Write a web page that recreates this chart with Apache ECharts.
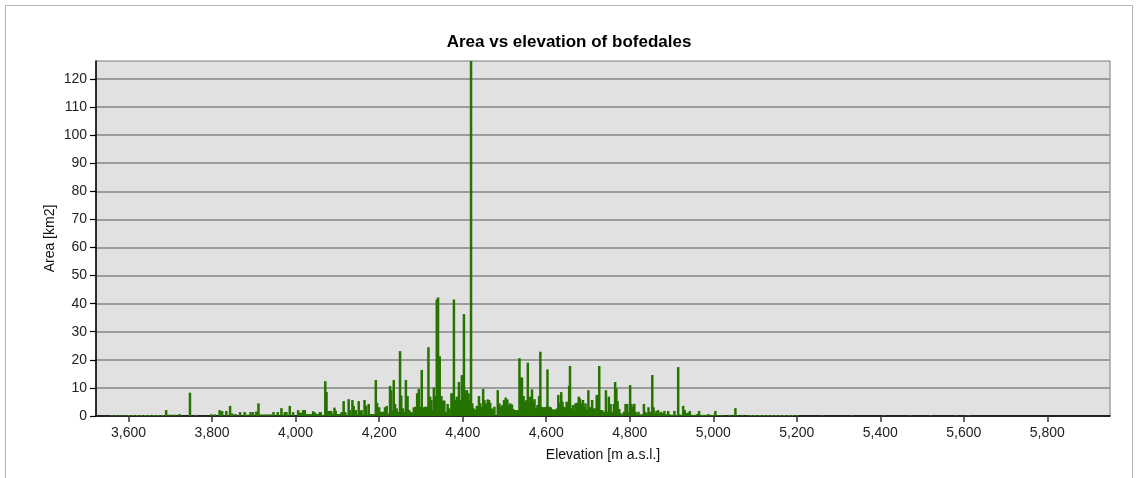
<!DOCTYPE html>
<html>
<head>
<meta charset="utf-8">
<script src="https://cdn.jsdelivr.net/npm/echarts@6/dist/echarts.min.js"></script>
<style>
  html, body { margin: 0; padding: 0; background: #ffffff; }
  #chart { width: 1138px; height: 478px; }
</style>
</head>
<body>
<div id="chart"></div>
<script>
// Bofedal areas (km2) by elevation (m a.s.l.)
const elevations = [
  3690, 3699, 3710, 3722, 3747, 3762, 3798, 3806, 3818, 3824, 3834, 3843, 3848, 3856, 3867, 3878, 3884, 3892, 3898, 3906,
  3911, 3918, 3926, 3933, 3940, 3947, 3957, 3966, 3974, 3978, 3986, 3994, 4006, 4010, 4014, 4018, 4022, 4026, 4031, 4036,
  4042, 4046, 4050, 4054, 4058, 4060, 4064, 4067, 4071, 4074, 4077, 4081, 4085, 4088, 4093, 4096, 4099, 4103, 4106, 4110,
  4115, 4119, 4127, 4130, 4136, 4139, 4144, 4151, 4154, 4158, 4165, 4169, 4175, 4178, 4182, 4186, 4192, 4195, 4200, 4205,
  4209, 4214, 4218, 4222, 4226, 4229, 4232, 4235, 4238, 4242, 4246, 4250, 4253, 4257, 4260, 4264, 4268, 4272, 4276, 4279,
  4283, 4287, 4291, 4295, 4299, 4302, 4306, 4310, 4314, 4318, 4322, 4325, 4329, 4331, 4334, 4338, 4341, 4345, 4349, 4352,
  4356, 4360, 4364, 4368, 4373, 4376, 4379, 4382, 4386, 4391, 4394, 4398, 4400, 4403, 4406, 4410, 4414, 4417, 4420, 4423,
  4427, 4430, 4434, 4439, 4442, 4446, 4449, 4452, 4456, 4460, 4463, 4466, 4470, 4473, 4476, 4484, 4488, 4491, 4495, 4499,
  4503, 4507, 4511, 4514, 4518, 4522, 4525, 4529, 4533, 4536, 4539, 4542, 4546, 4550, 4553, 4556, 4559, 4562, 4566, 4569,
  4572, 4576, 4579, 4583, 4586, 4589, 4593, 4596, 4600, 4603, 4607, 4611, 4615, 4619, 4622, 4626, 4629, 4632, 4636, 4639,
  4643, 4646, 4649, 4652, 4655, 4657, 4660, 4664, 4667, 4670, 4674, 4678, 4681, 4684, 4688, 4691, 4694, 4698, 4701, 4704,
  4708, 4710, 4714, 4718, 4721, 4724, 4727, 4730, 4734, 4738, 4743, 4747, 4750, 4754, 4758, 4762, 4765, 4768, 4771, 4775,
  4778, 4782, 4786, 4790, 4794, 4798, 4801, 4804, 4807, 4811, 4814, 4818, 4821, 4826, 4830, 4834, 4837, 4842, 4845, 4849,
  4854, 4857, 4861, 4864, 4868, 4872, 4875, 4879, 4883, 4887, 4892, 4896, 4900, 4904, 4907, 4911, 4916, 4919, 4923, 4928,
  4932, 4936, 4940, 4944, 4948, 4952, 4957, 4962, 4966, 4970, 4976, 4982, 4988, 4993, 5000, 5005, 5009, 5015, 5021, 5027,
  5038, 5043, 5053, 5058, 5070, 5082
];
const areas = [
  2.1, 0.5, 0.5, 0.7, 8.3, 0.4, 0.6, 0.6, 2.1, 1.8, 1.8, 3.6, 0.9, 0.7, 1.4, 1.4, 0.5, 1.4, 1.4, 1.6,
  4.5, 0.6, 0.6, 0.6, 0.6, 1.4, 1.4, 2.8, 1.4, 1.4, 3.6, 1.4, 2.1, 1.2, 1.2, 2.1, 2.1, 0.7, 0.7, 0.7,
  1.7, 1.3, 0.7, 0.7, 1.4, 1.4, 0.4, 0.4, 12.4, 8.5, 1.8, 1.8, 1.8, 0.9, 3.0, 1.9, 0.7, 0.7, 0.7, 1.4,
  5.3, 1.4, 6.0, 2.1, 5.7, 3.6, 2.1, 5.3, 1.8, 2.1, 5.7, 3.7, 4.3, 0.7, 0.7, 0.7, 12.8, 4.7, 3.1, 1.5,
  1.5, 3.1, 3.6, 0.9, 10.7, 9.2, 1.9, 12.8, 4.3, 2.7, 1.5, 23.1, 7.3, 2.7, 1.5, 12.8, 7.1, 2.1, 1.4, 1.2,
  3.1, 3.3, 8.1, 9.6, 3.3, 16.4, 3.1, 3.3, 3.3, 24.5, 6.9, 5.7, 2.1, 10.1, 7.1, 41.5, 42.2, 21.3, 7.1, 5.5,
  5.5, 1.5, 4.3, 2.7, 8.1, 8.1, 41.5, 5.7, 6.9, 12.1, 5.7, 14.5, 14.6, 36.3, 9.2, 9.2, 8.1, 5.7, 126.4, 4.5,
  2.7, 2.1, 3.6, 7.1, 4.5, 3.3, 9.6, 5.7, 4.5, 5.9, 5.7, 4.7, 2.7, 1.9, 3.3, 9.2, 4.5, 3.3, 3.9, 5.7,
  6.6, 5.9, 3.9, 4.5, 4.1, 2.4, 2.1, 2.1, 2.1, 20.6, 13.7, 13.7, 7.1, 5.1, 5.7, 19.0, 4.5, 6.9, 9.5, 5.1,
  6.0, 2.7, 3.9, 7.1, 22.9, 3.3, 3.1, 3.1, 3.3, 16.6, 3.3, 3.1, 2.4, 2.1, 2.4, 2.7, 7.5, 4.7, 8.5, 5.1,
  3.3, 2.7, 5.1, 4.5, 10.7, 17.8, 2.7, 3.9, 2.1, 4.5, 4.7, 6.9, 6.2, 4.5, 5.7, 3.3, 4.5, 2.4, 9.2, 3.1,
  3.1, 5.7, 2.7, 2.7, 7.5, 7.5, 17.8, 2.1, 2.1, 1.5, 9.2, 1.5, 6.9, 4.3, 1.5, 4.3, 12.1, 9.8, 5.3, 2.5,
  1.0, 0.6, 1.5, 4.3, 4.3, 1.5, 11.0, 4.3, 3.3, 4.3, 1.5, 0.6, 1.5, 0.6, 0.6, 4.3, 1.5, 1.0, 3.1, 1.5,
  14.6, 3.1, 1.0, 1.8, 2.1, 1.0, 1.5, 1.0, 1.8, 0.6, 1.8, 0.6, 0.4, 0.4, 1.8, 0.4, 17.4, 0.6, 0.4, 3.6,
  2.1, 1.0, 1.2, 1.8, 0.4, 0.4, 0.4, 0.7, 1.8, 0.4, 0.4, 0.4, 0.7, 0.4, 0.4, 1.8, 0.3, 0.3, 0.3, 0.2,
  0.4, 0.2, 2.8, 0.2, 0.4, 0.3
];

// Very small wetlands that show up only as a trace along the baseline
const traceElevations = [
  3560, 3570, 3580, 3590, 3600, 3610, 3620, 3630, 3640, 3650, 3660, 3670, 3680,
  5090, 5100, 5110, 5120, 5130, 5140, 5150, 5160, 5170, 5180, 5190, 5200,
  5260, 5330, 5410, 5470, 5520, 5580, 5610
];
const traceAreas = [
  0.2, 0.2, 0.2, 0.2, 0.3, 0.3, 0.3, 0.3, 0.3, 0.3, 0.3, 0.3, 0.3,
  0.3, 0.3, 0.3, 0.3, 0.3, 0.3, 0.3, 0.3, 0.3, 0.3, 0.3, 0.2,
  0.15, 0.15, 0.15, 0.15, 0.15, 0.15, 0.15
];

const xTickValues = [3600, 3800, 4000, 4200, 4400, 4600, 4800, 5000, 5200, 5400, 5600, 5800];
const yTickValues = [0, 10, 20, 30, 40, 50, 60, 70, 80, 90, 100, 110, 120];

const xMin = 3522;
const xMax = 5950;
const yMax = 126.4;

const barColor = '#267300';
const fontFamily = '"Liberation Sans", Arial, sans-serif';

function thousands(v) {
  return String(v).replace(/\B(?=(\d{3})+(?!\d))/g, ',');
}

const mainData = elevations.map((e, i) => [e, areas[i]]);
const traceData = traceElevations.map((e, i) => [e, traceAreas[i]]);

const chart = echarts.init(document.getElementById('chart'), null, { renderer: 'canvas' });

chart.setOption({
  animation: false,
  backgroundColor: '#ffffff',
  title: {
    text: 'Area vs elevation of bofedales',
    left: 'center',
    top: 29,
    textStyle: { fontFamily, fontSize: 17, fontWeight: 'bold', color: '#000' }
  },
  grid: {
    left: 96,
    right: 28,
    top: 61,
    bottom: 62,
    show: true,
    backgroundColor: '#e1e1e1',
    borderColor: '#7a7a7a',
    borderWidth: 1
  },
  xAxis: {
    type: 'value',
    min: xMin,
    max: xMax,
    name: 'Elevation [m a.s.l.]',
    nameLocation: 'middle',
    nameGap: 32,
    nameMoveOverlap: false,
    nameTextStyle: { fontFamily, fontSize: 14, color: '#111' },
    axisLine: { show: true, onZero: false, lineStyle: { color: '#000', width: 1.5 } },
    axisTick: { show: true, length: 6, customValues: xTickValues, lineStyle: { color: '#333', width: 1.5 } },
    axisLabel: {
      customValues: xTickValues,
      margin: 10,
      fontFamily, fontSize: 14, color: '#222',
      formatter: v => thousands(v)
    },
    splitLine: { show: false }
  },
  yAxis: {
    type: 'value',
    min: 0,
    max: yMax,
    interval: 10,
    name: 'Area [km2]',
    nameLocation: 'middle',
    nameGap: 39,
    nameMoveOverlap: false,
    nameTextStyle: { fontFamily, fontSize: 14, color: '#111' },
    axisLine: { show: true, lineStyle: { color: '#000', width: 1.5 } },
    axisTick: { show: true, length: 6, customValues: yTickValues, lineStyle: { color: '#000', width: 1.2 } },
    axisLabel: {
      customValues: yTickValues,
      margin: 9,
      fontFamily, fontSize: 14, color: '#222'
    },
    splitLine: { show: true, lineStyle: { color: '#858585', width: 1.5 } }
  },
  series: [
    {
      name: 'trace',
      type: 'bar',
      data: traceData,
      barWidth: 3,
      barGap: '-100%',
      itemStyle: { color: '#3f8a1c' },
      z: 2
    },
    {
      name: 'Area',
      type: 'bar',
      data: mainData,
      barWidth: 2.5,
      barGap: '-100%',
      itemStyle: { color: barColor },
      z: 3
    }
  ],
  graphic: [
    {
      type: 'rect',
      shape: { x: 5.5, y: 5.5, width: 1127, height: 500 },
      style: { fill: null, stroke: '#b4b4b4', lineWidth: 1 },
      silent: true
    }
  ]
});
</script>
</body>
</html>
